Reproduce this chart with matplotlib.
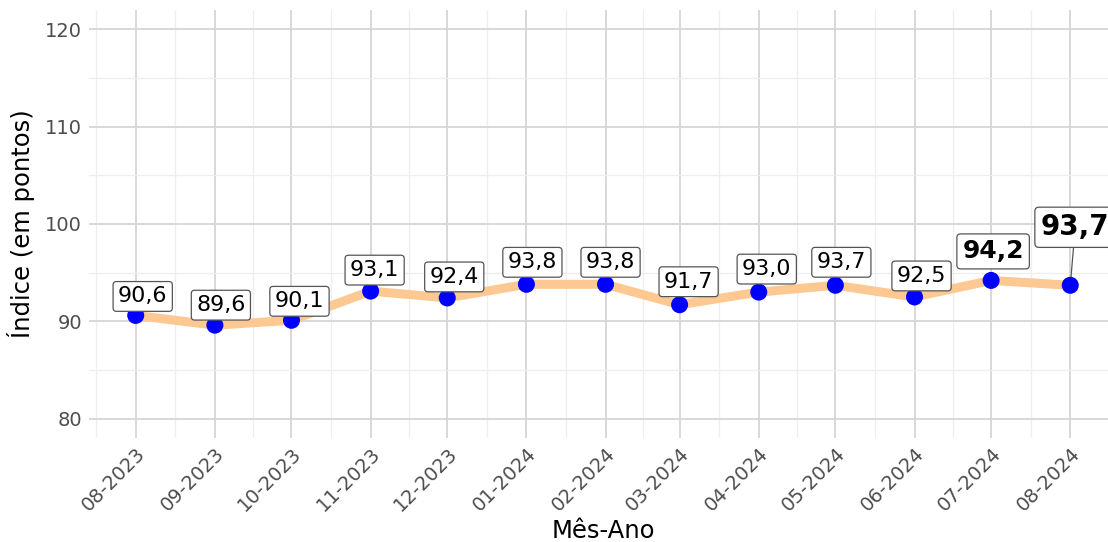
import matplotlib
matplotlib.use("Agg")
import matplotlib.pyplot as plt
import matplotlib.dates as mdates
import numpy as np
import pandas as pd

# ---- data ----
months = ["08-2023", "09-2023", "10-2023", "11-2023", "12-2023", "01-2024", "02-2024",
          "03-2024", "04-2024", "05-2024", "06-2024", "07-2024", "08-2024"]
values = [90.6, 89.6, 90.1, 93.1, 92.4, 93.8, 93.8, 91.7, 93.0, 93.7, 92.5, 94.2, 93.7]
y_ticks = [80, 90, 100, 110, 120]
# label offsets in pixels (repelled label placement)
label_dx = [7, 6, 8, 4, 7, 6, 5, 9, 8, 6, 7, 2, 5]
label_dy = [19, 20, 19, 21, 21, 22, 22, 23, 23, 23, 21, 29, 58]

dates = pd.to_datetime(["01-" + m for m in months], format="%d-%m-%Y")
x = mdates.date2num(dates)

plt.rcParams['font.family'] = ['DejaVu Sans']
fig = plt.figure(figsize=(11.08, 5.42), dpi=100)
W, H = 1108, 542
left_px, right_px, top_px, bot_px = 89, 1117, 10, 438
ax = fig.add_axes([left_px / W, (H - bot_px) / H, (right_px - left_px) / W, (bot_px - top_px) / H])

span = x[-1] - x[0]
ax.set_xlim(x[0] - 0.05 * span, x[-1] + 0.05 * span)
ax.set_ylim(78, 122)

# grid
ax.set_xticks(x)
mids = list((x[:-1] + x[1:]) / 2)
minor_x = [x[0] - (x[1] - x[0]) / 2] + mids + [x[-1] + (x[1] - x[0]) / 2]
ax.set_xticks(minor_x, minor=True)
ax.set_yticks(y_ticks)
ax.set_yticks([85, 95, 105, 115], minor=True)
ax.grid(which='major', color='#d6d6d6', linewidth=1.3)
ax.grid(which='minor', color='#eeeeee', linewidth=0.9)
ax.set_axisbelow(True)
for s in ax.spines.values():
    s.set_visible(False)
ax.tick_params(which='both', length=0)
ax.tick_params(axis='y', labelsize=14, labelcolor='#4d4d4d', pad=5)
ax.tick_params(axis='x', labelsize=14, labelcolor='#4d4d4d', pad=4)
ax.set_xticklabels(months, rotation=45, ha='right', rotation_mode='anchor')

ax.plot(x, values, color='#FDC891', linewidth=6.5, solid_capstyle='round', zorder=2)
ax.scatter(x, values, s=150, color='#0000FF', zorder=3, edgecolors='none')

for i, (xi, v) in enumerate(zip(x, values)):
    txt = f"{v:.1f}".replace(".", ",")
    if i == len(values) - 1:
        fs, fw = 20, 'bold'
    elif i == len(values) - 2:
        fs, fw = 18, 'bold'
    else:
        fs, fw = 16, 'normal'
    arrow = None
    if i == len(values) - 1:
        arrow = dict(arrowstyle='-', color='#555555', lw=0.9, shrinkA=0, shrinkB=6)
    ax.annotate(txt, xy=(xi, v), xytext=(label_dx[i], label_dy[i]), textcoords='offset pixels',
                ha='center', va='center', fontsize=fs, fontweight=fw, color='black',
                bbox=dict(boxstyle='round,pad=0.22,rounding_size=0.15', fc='white', ec='#555555', lw=0.9),
                arrowprops=arrow, zorder=4, annotation_clip=False)

ax.set_xlabel("Mês-Ano", fontsize=17.5, color='black', labelpad=3)
ax.set_ylabel("Índice (em pontos)", fontsize=17.5, color='black', labelpad=7)

fig.savefig("out.png", dpi=100)
